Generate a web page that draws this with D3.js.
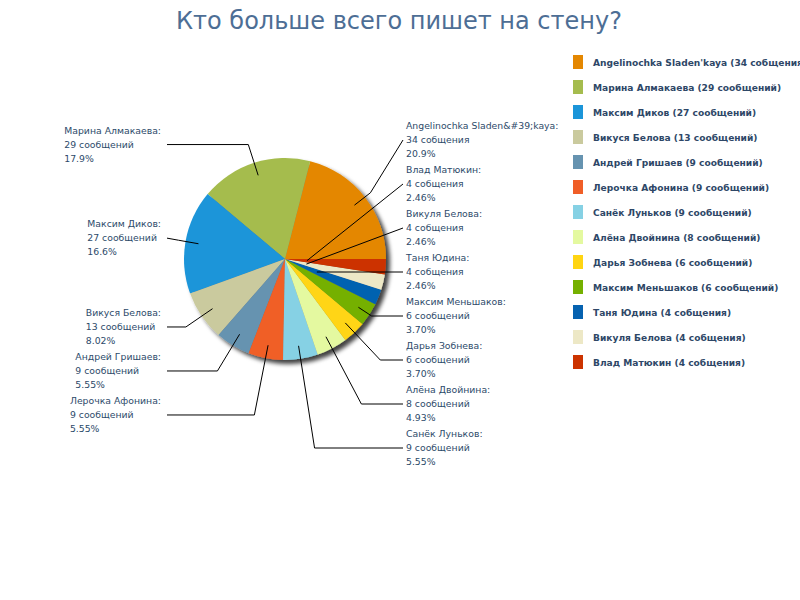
<!DOCTYPE html>
<html>
<head>
<meta charset="utf-8">
<script src="https://cdn.jsdelivr.net/npm/d3@7"></script>
<style>
  body { margin: 0; background: #fff; }
  svg { display: block; }
</style>
</head>
<body>
<script>
// who writes on the wall the most
const names = ["Angelinochka Sladen&#39;kaya", "Марина Алмакаева", "Максим Диков", "Викуся Белова",
  "Андрей Гришаев", "Лерочка Афонина", "Санёк Луньков", "Алёна Двойнина", "Дарья Зобнева",
  "Максим Меньшаков", "Таня Юдина", "Викуля Белова", "Влад Матюкин"];
const counts = [34, 29, 27, 13, 9, 9, 9, 8, 6, 6, 4, 4, 4];
const units = ["собщения", "сообщений", "сообщений", "сообщений", "сообщений", "сообщений",
  "сообщений", "сообщений", "сообщений", "сообщений", "собщения", "собщения", "собщения"];
const colors = ["#e48701", "#a5bc4e", "#1b95d9", "#caca9e", "#6693b0", "#f05e27", "#86d1e4",
  "#e4f9a0", "#ffd512", "#75b000", "#0662b0", "#ede8c6", "#cc3300"];
const title = "Кто больше всего пишет на стену?";

const W = 800, H = 600;
const cx = 285, cy = 259, r = 101;
const labelFont = "DejaVu Sans, Verdana, sans-serif";

const svg = d3.select("body").append("svg").attr("width", W).attr("height", H);

const defs = svg.append("defs");
const shadow = defs.append("filter").attr("id", "shadow")
  .attr("x", "-20%").attr("y", "-20%").attr("width", "150%").attr("height", "150%");
shadow.append("feDropShadow").attr("dx", 4).attr("dy", 4).attr("stdDeviation", 2)
  .attr("flood-color", "#000").attr("flood-opacity", 0.75);

svg.append("text")
  .attr("x", 399).attr("y", 29)
  .attr("text-anchor", "middle")
  .attr("font-family", labelFont).attr("font-size", 24)
  .attr("fill", "#4d6e95")
  .text(title);

const total = d3.sum(counts);
function pct(v) {
  const p = v / total * 100;
  const dig = p >= 10 ? 1 : 2;
  const m = Math.pow(10, dig);
  return (Math.floor(p * m + 1e-9) / m).toFixed(dig) + "%";
}

const items = names.map((n, i) => ({ name: n, value: counts[i], unit: units[i], color: colors[i] }));

const pie = d3.pie().value(d => d.value).sort(null)
  .startAngle(Math.PI / 2).endAngle(Math.PI / 2 - 2 * Math.PI);
const arcs = pie(items);
const arc = d3.arc().innerRadius(0).outerRadius(r);

const g = svg.append("g").attr("transform", `translate(${cx},${cy})`);
g.append("g").attr("filter", "url(#shadow)")
  .selectAll("path").data(arcs).enter()
  .append("path")
  .attr("d", arc)
  .attr("fill", d => d.data.color);

// label layout
const pt = (a, d) => [cx + d * Math.sin(a), cy - d * Math.cos(a)];
arcs.forEach(d => {
  d.mid = (d.startAngle + d.endAngle) / 2;
  d.right = Math.sin(d.mid) > 0;
  d.ny = pt(d.mid, r * 1.19)[1];
});
const gap = 44, maxY = 448;
[true, false].forEach(side => {
  const list = arcs.filter(d => d.right === side).sort((a, b) => a.ny - b.ny);
  list.forEach((d, k) => { d.ly = k === 0 ? d.ny : Math.max(d.ny, list[k - 1].ly + gap); });
  for (let k = list.length - 1; k >= 0; k--) {
    const lim = k === list.length - 1 ? maxY : list[k + 1].ly - gap;
    list[k].ly = Math.min(list[k].ly, lim);
  }
});

const lines = svg.append("g").attr("fill", "none").attr("stroke", "#000").attr("stroke-width", 1);
const labels = svg.append("g")
  .attr("font-family", labelFont).attr("font-size", 9.3).attr("fill", "#2d4a6a");

arcs.forEach(d => {
  const ax = d.right ? 403 : 167;
  const P = pt(d.mid, r * 0.87);
  let dist = (cy - d.ly) / Math.cos(d.mid);
  let path;
  if (!(dist > 0)) dist = 22;
  if (dist <= r * 0.87) {
    path = [[ax, d.ly], pt(d.mid, Math.max(dist, 22))];
  } else {
    let E = pt(d.mid, dist);
    if ((d.right && E[0] > ax - 3) || (!d.right && E[0] < ax + 3)) E = pt(d.mid, r * 1.07);
    path = [[ax, d.ly], E, P];
  }
  lines.append("path").attr("d", d3.line()(path));

  const t = labels.append("text");
  const rows = [d.data.name + ":", d.data.value + " " + d.data.unit, pct(d.data.value)];
  rows.forEach((s, k) => {
    t.append("tspan").attr("x", 0).attr("y", d.ly + (k - 1) * 14 + 3.3).text(s);
  });
  if (d.right) {
    t.selectAll("tspan").attr("x", 406);
  } else {
    const w = t.node().getBBox().width;
    t.selectAll("tspan").attr("x", 161 - w);
  }
});

// legend
const legend = svg.append("g").attr("font-family", labelFont)
  .attr("font-size", 9.1).attr("font-weight", "bold").attr("fill", "#2e4767");
items.forEach((d, i) => {
  const y = 62 + i * 25;
  legend.append("rect").attr("x", 573).attr("y", y - 7).attr("width", 10).attr("height", 14)
    .attr("fill", d.color);
  legend.append("text").attr("x", 593).attr("y", y + 3.5)
    .text(d.name.replace("&#39;", "'") + " (" + d.value + " " + d.unit + ")");
});
</script>
</body>
</html>
